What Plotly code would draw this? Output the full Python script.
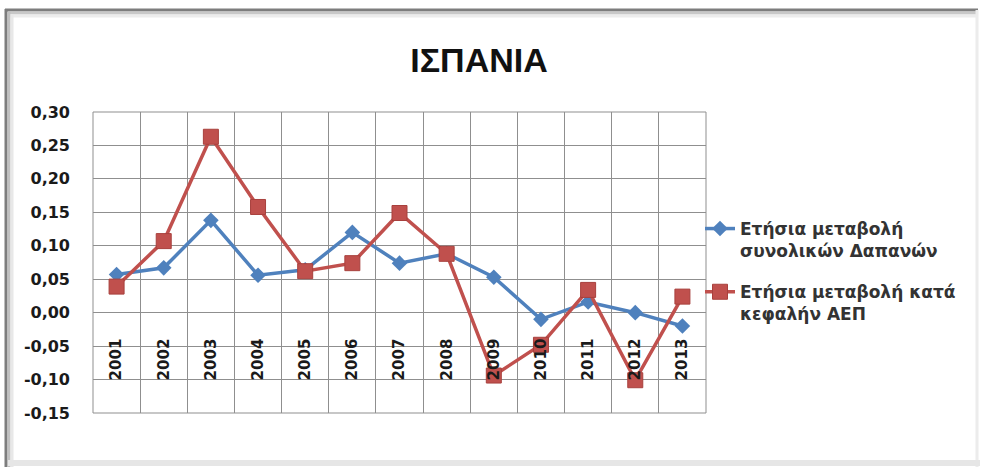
import plotly.graph_objects as go

# Annual change, Spain, 2001-2013
years = ["2001", "2002", "2003", "2004", "2005", "2006", "2007",
         "2008", "2009", "2010", "2011", "2012", "2013"]
total_spending = [0.057, 0.067, 0.138, 0.056, 0.064, 0.120, 0.074,
                  0.088, 0.053, -0.010, 0.016, 0.000, -0.020]
gdp_per_capita = [0.039, 0.107, 0.263, 0.158, 0.062, 0.074, 0.149,
                  0.088, -0.094, -0.048, 0.034, -0.101, 0.024]

y_ticks = [-0.15, -0.10, -0.05, 0.00, 0.05, 0.10, 0.15, 0.20, 0.25, 0.30]
y_tick_labels = ["-0,15", "-0,10", "-0,05", "0,00", "0,05", "0,10",
                 "0,15", "0,20", "0,25", "0,30"]

name_spending = "Ετήσια μεταβολή<br>συνολικών Δαπανών"
name_gdp = "Ετήσια μεταβολή κατά<br>κεφαλήν ΑΕΠ"

BLUE = "#4F81BD"
RED = "#C0504D"
GRID = "#8f8f8f"

W, H = 982, 467
L, R, T, B = 93, 706, 112, 413  # plot area in pixels

def px(x):
    return (x - L) / (R - L)

def py(y):
    return (B - y) / (B - T)

fig = go.Figure()
fig.add_trace(go.Scatter(
    x=years, y=total_spending, name=name_spending, mode="lines+markers",
    legendgroup="a",
    line=dict(color=BLUE, width=3.5),
    marker=dict(symbol="diamond", size=12, color=BLUE),
))
fig.add_trace(go.Scatter(
    x=years, y=gdp_per_capita, name=name_gdp, mode="lines+markers",
    legendgroup="b",
    line=dict(color=RED, width=3.5),
    marker=dict(symbol="square", size=15, color=RED,
                line=dict(color="#a8403d", width=1)),
))

y_min, y_max = y_ticks[0], y_ticks[-1]
zero_pos = (0 - y_min) / (y_max - y_min)

shapes = [
    # plot area frame
    dict(type="rect", xref="paper", yref="paper", x0=0, y0=0, x1=1, y1=1,
         line=dict(color=GRID, width=1), layer="below"),
    # outer chart frame
    dict(type="line", xref="paper", yref="paper",
         x0=px(5), x1=px(978), y0=py(10), y1=py(10),
         line=dict(color="#7d7d7d", width=3)),
    dict(type="line", xref="paper", yref="paper",
         x0=px(10), x1=px(978), y0=py(13), y1=py(13),
         line=dict(color="#c8c8c8", width=3)),
    dict(type="line", xref="paper", yref="paper",
         x0=px(10), x1=px(978), y0=py(16), y1=py(16),
         line=dict(color="#ececec", width=3)),
    dict(type="line", xref="paper", yref="paper",
         x0=px(6), x1=px(6), y0=py(9), y1=py(467),
         line=dict(color="#7d7d7d", width=3)),
    dict(type="line", xref="paper", yref="paper",
         x0=px(9), x1=px(9), y0=py(12), y1=py(467),
         line=dict(color="#c0c0c0", width=3)),
    dict(type="line", xref="paper", yref="paper",
         x0=px(12), x1=px(12), y0=py(14), y1=py(467),
         line=dict(color="#e8e8e8", width=3)),
    dict(type="line", xref="paper", yref="paper",
         x0=px(977), x1=px(977), y0=py(10), y1=py(467),
         line=dict(color="#ececec", width=3)),
    dict(type="line", xref="paper", yref="paper",
         x0=px(8), x1=px(980), y0=py(463), y1=py(463),
         line=dict(color="#e6e6e6", width=6)),
]

fig.update_layout(
    width=W, height=H,
    margin=dict(l=L, r=W - R, t=T, b=H - B, pad=0),
    paper_bgcolor="white", plot_bgcolor="white",
    title=dict(text="<b>ΙΣΠΑΝΙΑ</b>", x=479 / W, xref="container",
               xanchor="center", y=1 - 60 / H, yref="container",
               yanchor="middle",
               font=dict(family="Liberation Sans", size=34, color="#111111")),
    xaxis=dict(
        type="category", tickson="boundaries",
        showgrid=True, gridcolor=GRID, gridwidth=1,
        showline=False, ticks="", tickangle=-90,
        anchor="free", position=zero_pos, ticklabelstandoff=22,
        tickfont=dict(family="DejaVu Sans", size=15, color="#1a1a1a",
                      weight="bold"),
        range=[-0.5, len(years) - 0.5],
    ),
    yaxis=dict(
        range=[y_min, y_max], tickvals=y_ticks, ticktext=y_tick_labels,
        showgrid=True, gridcolor=GRID, gridwidth=1,
        zeroline=True, zerolinecolor=GRID, zerolinewidth=1,
        showline=False, ticks="", ticklabelstandoff=22,
        tickfont=dict(family="DejaVu Sans", size=16, color="#1a1a1a",
                      weight="bold"),
    ),
    showlegend=True,
    legend=dict(
        x=px(700), xanchor="left", y=py(211), yanchor="top",
        valign="top", traceorder="grouped", tracegroupgap=16,
        bgcolor="rgba(0,0,0,0)",
        font=dict(family="DejaVu Sans", size=17, color="#333333",
                  weight="bold"),
    ),
    shapes=shapes,
)

fig.write_html("out.html")
